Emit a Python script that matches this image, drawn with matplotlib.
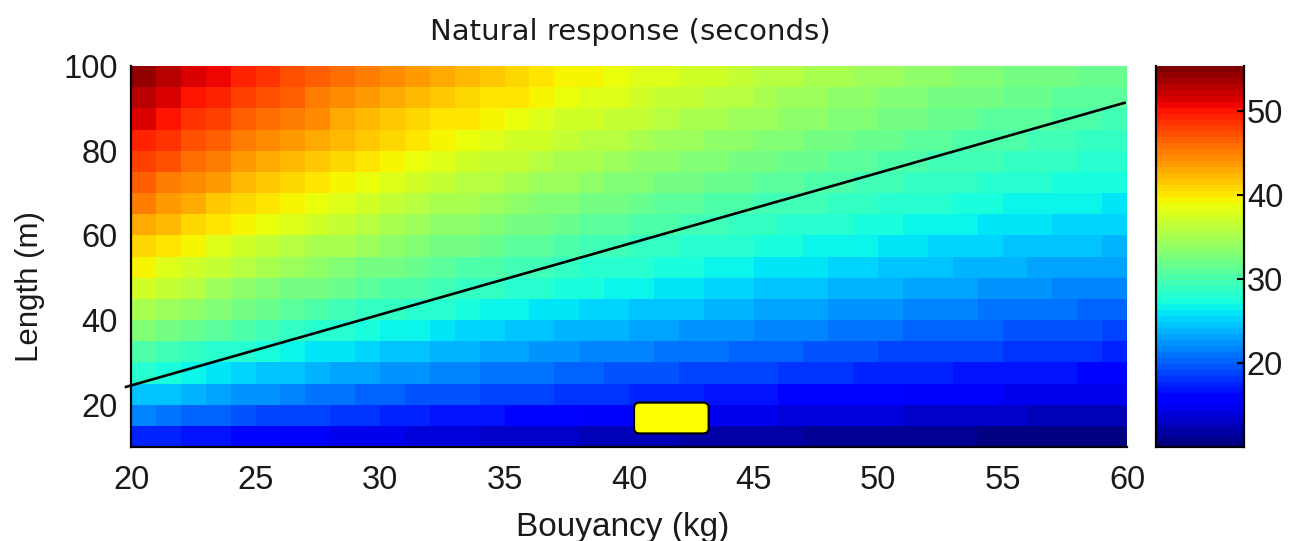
import numpy as np
import matplotlib
matplotlib.use("Agg")
import matplotlib.pyplot as plt
from matplotlib.patches import FancyBboxPatch
from matplotlib.lines import Line2D

# cell edges
bouyancy_edges = list(range(20, 61))                 # kg
length_edges = [10, 15, 20, 25, 30, 35, 40, 45, 50, 55,
                60, 65, 70, 75, 80, 85, 90, 95, 100]  # m

# natural response (s), one row per length band, bouyancy 20..59 kg
t_len10 = [17.5, 17.1, 16.7, 16.4, 16.0, 15.7, 15.4, 15.1, 14.8, 14.6, 14.3, 14.1, 13.9, 13.7, 13.5, 13.3, 13.1, 12.9, 12.7, 12.6,
           12.4, 12.3, 12.1, 12.0, 11.8, 11.7, 11.6, 11.4, 11.3, 11.2, 11.1, 11.0, 10.9, 10.8, 10.7, 10.6, 10.5, 10.4, 10.3, 10.2]
t_len15 = [21.5, 21.0, 20.5, 20.0, 19.6, 19.2, 18.8, 18.5, 18.2, 17.8, 17.5, 17.2, 17.0, 16.7, 16.5, 16.2, 16.0, 15.8, 15.6, 15.4,
           15.2, 15.0, 14.8, 14.6, 14.5, 14.3, 14.2, 14.0, 13.9, 13.7, 13.6, 13.4, 13.3, 13.2, 13.1, 12.9, 12.8, 12.7, 12.6, 12.5]
t_len20 = [24.8, 24.2, 23.6, 23.1, 22.6, 22.2, 21.8, 21.3, 21.0, 20.6, 20.3, 19.9, 19.6, 19.3, 19.0, 18.8, 18.5, 18.2, 18.0, 17.8,
           17.5, 17.3, 17.1, 16.9, 16.7, 16.5, 16.3, 16.2, 16.0, 15.8, 15.7, 15.5, 15.4, 15.2, 15.1, 14.9, 14.8, 14.7, 14.6, 14.4]
t_len25 = [27.7, 27.1, 26.4, 25.9, 25.3, 24.8, 24.3, 23.9, 23.4, 23.0, 22.6, 22.3, 21.9, 21.6, 21.3, 21.0, 20.7, 20.4, 20.1, 19.9,
           19.6, 19.4, 19.1, 18.9, 18.7, 18.5, 18.3, 18.1, 17.9, 17.7, 17.5, 17.4, 17.2, 17.0, 16.9, 16.7, 16.6, 16.4, 16.3, 16.1]
t_len30 = [30.4, 29.6, 29.0, 28.3, 27.7, 27.2, 26.6, 26.1, 25.7, 25.2, 24.8, 24.4, 24.0, 23.6, 23.3, 23.0, 22.6, 22.3, 22.0, 21.8,
           21.5, 21.2, 21.0, 20.7, 20.5, 20.2, 20.0, 19.8, 19.6, 19.4, 19.2, 19.0, 18.8, 18.7, 18.5, 18.3, 18.2, 18.0, 17.8, 17.7]
t_len35 = [32.8, 32.0, 31.3, 30.6, 30.0, 29.3, 28.8, 28.2, 27.7, 27.2, 26.8, 26.3, 25.9, 25.5, 25.2, 24.8, 24.5, 24.1, 23.8, 23.5,
           23.2, 22.9, 22.6, 22.4, 22.1, 21.9, 21.6, 21.4, 21.2, 21.0, 20.7, 20.5, 20.4, 20.1, 20.0, 19.8, 19.6, 19.4, 19.3, 19.1]
t_len40 = [35.1, 34.2, 33.4, 32.7, 32.0, 31.4, 30.8, 30.2, 29.6, 29.1, 28.6, 28.2, 27.7, 27.3, 26.9, 26.5, 26.1, 25.8, 25.4, 25.1,
           24.8, 24.5, 24.2, 23.9, 23.6, 23.4, 23.1, 22.9, 22.6, 22.4, 22.2, 22.0, 21.8, 21.5, 21.3, 21.1, 21.0, 20.8, 20.6, 20.4]
t_len45 = [37.2, 36.3, 35.5, 34.7, 34.0, 33.3, 32.6, 32.0, 31.4, 30.9, 30.4, 29.9, 29.4, 29.0, 28.5, 28.1, 27.7, 27.3, 27.0, 26.6,
           26.3, 26.0, 25.7, 25.4, 25.1, 24.8, 24.5, 24.3, 24.0, 23.8, 23.5, 23.3, 23.1, 22.8, 22.6, 22.4, 22.2, 22.0, 21.8, 21.7]
t_len50 = [39.2, 38.3, 37.4, 36.6, 35.8, 35.1, 34.4, 33.7, 33.1, 32.6, 32.0, 31.5, 31.0, 30.5, 30.1, 29.7, 29.2, 28.8, 28.4, 28.1,
           27.7, 27.4, 27.1, 26.7, 26.4, 26.1, 25.8, 25.6, 25.3, 25.0, 24.8, 24.6, 24.3, 24.1, 23.9, 23.6, 23.4, 23.2, 23.0, 22.8]
t_len55 = [41.1, 40.1, 39.2, 38.3, 37.5, 36.8, 36.1, 35.4, 34.8, 34.1, 33.6, 33.0, 32.5, 32.0, 31.5, 31.1, 30.7, 30.2, 29.8, 29.5,
           29.1, 28.7, 28.4, 28.0, 27.7, 27.4, 27.1, 26.8, 26.5, 26.3, 26.0, 25.8, 25.5, 25.3, 25.0, 24.8, 24.6, 24.4, 24.2, 23.9]
t_len60 = [43.0, 41.9, 41.0, 40.0, 39.2, 38.4, 37.7, 37.0, 36.3, 35.7, 35.1, 34.5, 34.0, 33.4, 32.9, 32.5, 32.0, 31.6, 31.2, 30.8,
           30.4, 30.0, 29.6, 29.3, 29.0, 28.6, 28.3, 28.0, 27.7, 27.4, 27.2, 26.9, 26.7, 26.4, 26.1, 25.9, 25.7, 25.5, 25.2, 25.0]
t_len65 = [44.7, 43.6, 42.6, 41.7, 40.8, 40.0, 39.2, 38.5, 37.8, 37.1, 36.5, 35.9, 35.3, 34.8, 34.3, 33.8, 33.3, 32.9, 32.4, 32.0,
           31.6, 31.2, 30.8, 30.5, 30.1, 29.8, 29.5, 29.2, 28.9, 28.6, 28.3, 28.0, 27.7, 27.5, 27.2, 26.9, 26.7, 26.5, 26.3, 26.0]
t_len70 = [46.4, 45.3, 44.2, 43.3, 42.4, 41.5, 40.7, 39.9, 39.2, 38.5, 37.9, 37.3, 36.7, 36.1, 35.6, 35.1, 34.6, 34.1, 33.7, 33.2,
           32.8, 32.4, 32.0, 31.6, 31.3, 30.9, 30.6, 30.3, 29.9, 29.6, 29.3, 29.1, 28.8, 28.5, 28.2, 28.0, 27.7, 27.5, 27.3, 27.0]
t_len75 = [48.0, 46.9, 45.8, 44.8, 43.8, 42.9, 42.1, 41.3, 40.6, 39.9, 39.2, 38.6, 38.0, 37.4, 36.8, 36.3, 35.8, 35.3, 34.8, 34.4,
           34.0, 33.5, 33.1, 32.8, 32.4, 32.0, 31.7, 31.3, 31.0, 30.7, 30.4, 30.1, 29.8, 29.5, 29.2, 28.9, 28.7, 28.5, 28.2, 28.0]
t_len80 = [49.6, 48.4, 47.3, 46.2, 45.3, 44.3, 43.5, 42.7, 41.9, 41.2, 40.5, 39.8, 39.2, 38.6, 38.0, 37.5, 37.0, 36.5, 36.0, 35.5,
           35.1, 34.6, 34.2, 33.8, 33.4, 33.1, 32.7, 32.4, 32.0, 31.7, 31.4, 31.1, 30.8, 30.5, 30.2, 29.9, 29.6, 29.4, 29.1, 28.9]
t_len85 = [51.1, 49.9, 48.7, 47.7, 46.7, 45.7, 44.8, 44.0, 43.2, 42.4, 41.7, 41.0, 40.4, 39.8, 39.2, 38.7, 38.1, 37.6, 37.1, 36.6,
           36.2, 35.7, 35.3, 34.9, 34.5, 34.1, 33.7, 33.4, 33.0, 32.7, 32.3, 32.0, 31.7, 31.4, 31.1, 30.8, 30.6, 30.3, 30.0, 29.8]
t_len90 = [52.6, 51.3, 50.2, 49.1, 48.0, 47.0, 46.1, 45.3, 44.5, 43.7, 43.0, 42.2, 41.6, 41.0, 40.4, 39.8, 39.2, 38.7, 38.2, 37.7,
           37.2, 36.8, 36.3, 35.9, 35.5, 35.1, 34.7, 34.3, 34.0, 33.6, 33.3, 32.9, 32.6, 32.3, 32.0, 31.7, 31.4, 31.2, 30.9, 30.6]
t_len95 = [54.1, 52.7, 51.5, 50.4, 49.3, 48.3, 47.4, 46.5, 45.7, 44.9, 44.1, 43.4, 42.7, 42.1, 41.5, 40.9, 40.3, 39.7, 39.2, 38.7,
           38.2, 37.8, 37.3, 36.9, 36.4, 36.0, 35.6, 35.3, 34.9, 34.5, 34.2, 33.8, 33.5, 33.2, 32.9, 32.6, 32.3, 32.0, 31.7, 31.5]

# colour limits
t_min, t_max = 10.0, 55.3

# black design line and the yellow marker box
line_b = [19.8, 59.9]
line_l = [24.2, 91.3]
box_b = [40.2, 43.2]
box_l = [13.2, 20.5]

xticks = [20, 25, 30, 35, 40, 45, 50, 55, 60]
yticks = [20, 40, 60, 80, 100]
cticks = [20, 30, 40, 50]

plt.rcParams['font.family'] = ['Liberation Sans', 'DejaVu Sans']
txt = '#1a1a1a'

response = np.array([t_len10, t_len15, t_len20, t_len25, t_len30, t_len35,
                     t_len40, t_len45, t_len50, t_len55, t_len60, t_len65,
                     t_len70, t_len75, t_len80, t_len85, t_len90, t_len95])

W, H = 1289, 541
fig = plt.figure(figsize=(W / 100, H / 100), dpi=100)
ax = fig.add_axes([131 / W, (H - 447) / H, 996 / W, 381 / H])
cax = fig.add_axes([1156 / W, (H - 447) / H, 88 / W, 381 / H])

cmap = plt.get_cmap('jet', 64)
mesh = ax.pcolormesh(bouyancy_edges, length_edges, response, cmap=cmap,
                     vmin=t_min, vmax=t_max, shading='flat')

ax.plot(line_b, line_l, color='black', lw=1.9, clip_on=False, zorder=3)

# rounded yellow box; keep the corner radius round despite the axis scales
aspect = (996 / 40) / (381 / 90)
ax.add_patch(FancyBboxPatch((box_b[0], box_l[0]), box_b[1] - box_b[0], box_l[1] - box_l[0],
                            boxstyle='round,pad=0,rounding_size=0.22', mutation_aspect=aspect,
                            facecolor='#ffff00', edgecolor='black', lw=1.6, zorder=4))

ax.set_xlim(20, 60)
ax.set_ylim(10, 100)
ax.set_xticks(xticks)
ax.set_yticks(yticks)
ax.tick_params(length=0, labelsize=23.5, colors=txt)
ax.tick_params(axis='x', pad=13)
ax.tick_params(axis='y', pad=9.5)
for s in ['top', 'right']:
    ax.spines[s].set_visible(False)
for s in ['left', 'bottom']:
    ax.spines[s].set_linewidth(1.6)
    ax.spines[s].set_color('black')

cb = fig.colorbar(mesh, cax=cax)
cb.outline.set_visible(False)
cb.set_ticks(cticks)
cax.tick_params(direction='in', length=5, width=1.5, labelsize=23.5, pad=2)
cax.tick_params(axis='y', colors='black', labelcolor=txt)
for xs, ys in [([0, 0], [0, 1]), ([1, 1], [0, 1]), ([0, 1], [0, 0])]:
    cax.add_line(Line2D(xs, ys, transform=cax.transAxes, color='black', lw=1.6, clip_on=False))

fig.text(630 / W, 1 - 32 / H, 'Natural response (seconds)', ha='center', va='center',
         fontsize=21, family='DejaVu Sans', color=txt)
fig.text(623 / W, 1 - 512 / H, 'Bouyancy (kg)', ha='center', va='top', fontsize=24, color=txt)
fig.text(30 / W, 1 - 286 / H, 'Length (m)', ha='center', va='center', rotation=90,
         fontsize=22.5, color=txt)

fig.savefig('out.png', dpi=100)
